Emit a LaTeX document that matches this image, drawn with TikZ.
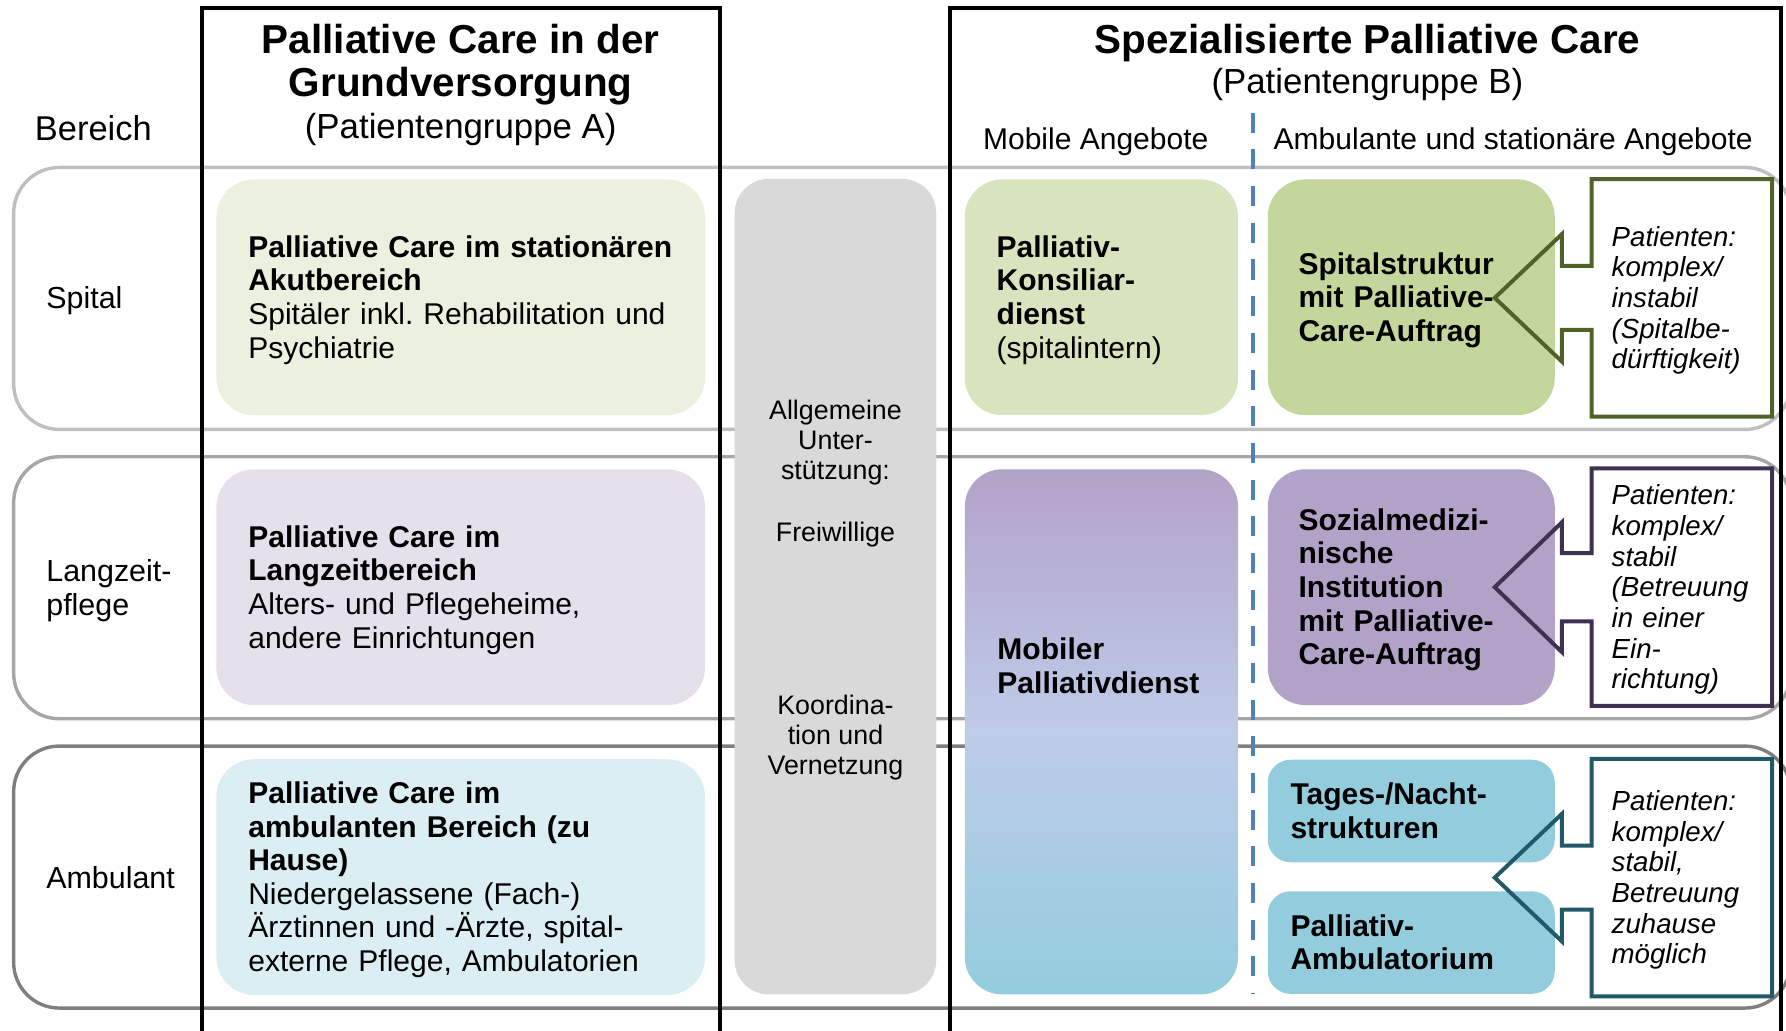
\documentclass[tikz,border=0pt]{standalone}
\usepackage{fontspec}
\setmainfont{Liberation Sans}
\frenchspacing

\definecolor{bandspital}{HTML}{BFBFBF}
\definecolor{bandlang}{HTML}{A6A6A6}
\definecolor{bandamb}{HTML}{7F7F7F}
\definecolor{greenpale}{HTML}{EBF1DE}
\definecolor{purplepale}{HTML}{E5E0EC}
\definecolor{aquapale}{HTML}{DBEEF4}
\definecolor{greenlight}{HTML}{D7E4BD}
\definecolor{greenmid}{HTML}{C3D69B}
\definecolor{purplemid}{HTML}{B3A2C7}
\definecolor{aquamid}{HTML}{93CDDD}
\definecolor{periwinkle}{HTML}{BECBE9}
\definecolor{greendark}{HTML}{4F6228}
\definecolor{purpledark}{HTML}{3F3151}
\definecolor{aquadark}{HTML}{215968}
\definecolor{supportgrey}{HTML}{D9D9D9}
\definecolor{dividerblue}{HTML}{4F81BD}

\tikzset{
  every node/.style={execute at begin node={\rule{0pt}{0.905em}},
    execute at end node={\rule[-0.212em]{0pt}{0pt}}},
  band/.style={line width=0.85pt, rounded corners=4mm},
  colframe/.style={line width=1pt, black},
  divider/.style={dividerblue, line width=1pt, dash pattern=on 1.76mm off 1.46mm},
  basebox/.style={rounded corners=3.3mm, inner sep=0pt, align=left,
    font=\fontsize{7.5}{8.4}\selectfont},
  gbox/.style={basebox, minimum width=42.9mm, minimum height=20.7mm, text width=37.3mm},
  mbox/.style={basebox, minimum width=24mm, text width=18.4mm},
  sbox/.style={basebox, minimum width=25.2mm, minimum height=20.7mm, text width=19.8mm,
    font=\fontsize{7.5}{8.4}\selectfont\bfseries},
  smallbox/.style={basebox, rounded corners=2mm, minimum width=25.2mm, minimum height=9mm,
    text width=21.2mm, font=\fontsize{7.5}{8.4}\selectfont\bfseries},
  patbox/.style={inner sep=0pt, minimum width=15.7mm, minimum height=20.7mm,
    text width=12.3mm, align=left, font=\fontsize{6.9}{7.65}\selectfont\itshape},
  calloutline/.style={line width=1pt, line join=miter},
  rowlabel/.style={anchor=west, inner sep=0pt, align=left, font=\fontsize{7.6}{8.5}\selectfont},
  colhead/.style={font=\fontsize{7.5}{9}\selectfont}
}

\begin{document}
\begin{tikzpicture}[x=0.1mm, y=-0.1mm]
  \useasboundingbox (0,0) rectangle (1568,905);

  % row bands
  \draw[band, bandspital] (12,147) rectangle (1572,377);
  \draw[band, bandlang] (12,401) rectangle (1572,631);
  \draw[band, bandamb] (12,655) rectangle (1572,885);

  % headings
  \node (bereich) at (30,113) [anchor=west, inner sep=0pt, font=\fontsize{8.6}{10}\selectfont] {Bereich};
  \node (headA) at (404.5,75) [align=center, font=\fontsize{10.1}{10.8}\selectfont\bfseries]
    {Palliative Care in der\\Grundversorgung\\[-0.15mm]{\mdseries\fontsize{8.7}{10.8}\selectfont (Patientengruppe A)}};
  \node (headB) at (1200.5,55.5) [align=center, font=\fontsize{10.1}{9.9}\selectfont\bfseries]
    {Spezialisierte Palliative Care\\{\mdseries\fontsize{8.7}{9.9}\selectfont (Patientengruppe B)}};
  \node (mobilehead) at (962,122) [colhead] {Mobile Angebote};
  \node (stationaryhead) at (1328.5,122) [colhead] {Ambulante und stationäre Angebote};

  % row labels
  \node (spital) at (40,262) [rowlabel] {Spital};
  \node (langzeit) at (40,519) [rowlabel] {Langzeit-\\pflege};
  \node (ambulant) at (40,771) [rowlabel] {Ambulant};

  % general support column
  \node (support) at (733.5,515) [fill=supportgrey, rounded corners=3mm, minimum width=17.7mm,
    minimum height=71.6mm] {};
  \node (supporttext) at (733.5,518) [align=center, font=\fontsize{6.7}{7.5}\selectfont]
    {Allgemeine\\Unter-\\stützung:\\[2.75mm]Freiwillige\\[12.55mm]Koordina-\\tion und\\Vernetzung};

  % basic care (group A)
  \node (acute) at (404.5,261) [gbox, fill=greenpale]
    {\textbf{Palliative Care im stationären}\\\textbf{Akutbereich}\\Spitäler inkl. Rehabilitation und\\Psychiatrie};
  \node (longterm) at (404.5,515.5) [gbox, fill=purplepale]
    {\textbf{Palliative Care im}\\\textbf{Langzeitbereich}\\Alters- und Pflegeheime,\\andere Einrichtungen};
  \node (homecare) at (404.5,770) [gbox, fill=aquapale]
    {\textbf{Palliative Care im}\\\textbf{ambulanten Bereich (zu}\\\textbf{Hause)}\\Niedergelassene (Fach-)\\Ärztinnen und -Ärzte, spital-\\externe Pflege, Ambulatorien};

  % specialised care (group B), mobile
  \node (consult) at (967,261) [mbox, minimum height=20.7mm, fill=greenlight]
    {\textbf{Palliativ-}\\\textbf{Konsiliar-}\\\textbf{dienst}\\(spitalintern)};
  \node (mobile) at (967,642.5) [mbox, minimum height=46.1mm,
    top color=purplemid, bottom color=aquamid, middle color=periwinkle] {};
  \node (mobiletext) at (875,587) [anchor=west, inner sep=0pt, align=left,
    font=\fontsize{7.5}{8.5}\selectfont\bfseries] {Mobiler\\Palliativdienst};

  % specialised care (group B), outpatient and inpatient
  \node (hospital) at (1239,261) [sbox, fill=greenmid]
    {Spitalstruktur\\mit Palliative-\\Care-Auftrag};
  \node (institution) at (1239,515.5) [sbox, fill=purplemid]
    {Sozialmedizi-\\nische\\Institution\\mit Palliative-\\Care-Auftrag};
  \node (daynight) at (1239,712) [smallbox, fill=aquamid] {Tages-/Nacht-\\strukturen};
  \node (outpatient) at (1239,827.5) [smallbox, fill=aquamid] {Palliativ-\\Ambulatorium};

  % patients
  \node (unstable) at (1476.5,261.5) [patbox]
    {Patienten:\\komplex/\\instabil\\(Spitalbe-\\dürftigkeit)};
  \node (stableinst) at (1476.5,515.5) [patbox]
    {Patienten:\\komplex/\\stabil\\(Betreuung\\in einer\\Ein-\\richtung)};
  \node (stablehome) at (1476.5,770.5) [patbox]
    {Patienten:\\komplex/\\stabil,\\Betreuung\\zuhause\\möglich};

  % column frames
  \draw[colframe] (177,915) -- (177,7) -- (632,7) -- (632,915);
  \draw[colframe] (834,915) -- (834,7) -- (1564,7) -- (1564,915);

  % mobile / stationary divider
  \coordinate (divtop) at (1100,99);
  \coordinate (divbot) at (1100,873);
  \draw[divider] (divtop) -- (divbot);

  % callout outlines
  \draw[calloutline, greendark] (unstable.north west) -- (unstable.north east) -- (unstable.south east)
    -- (unstable.south west) -- ([yshift=-2.8mm]unstable.west) -- ++(-2.6mm,0) -- ++(0,-2.8mm)
    -- ([xshift=-8.5mm]unstable.west) -- ([xshift=-2.6mm,yshift=5.6mm]unstable.west) -- ++(0,-2.8mm)
    -- ([yshift=2.8mm]unstable.west) -- cycle;
  \draw[calloutline, purpledark] (stableinst.north west) -- (stableinst.north east) -- (stableinst.south east)
    -- (stableinst.south west) -- ([yshift=-3mm]stableinst.west) -- ++(-2.6mm,0) -- ++(0,-2.7mm)
    -- ([xshift=-8.5mm]stableinst.west) -- ([xshift=-2.6mm,yshift=5.7mm]stableinst.west) -- ++(0,-2.7mm)
    -- ([yshift=3mm]stableinst.west) -- cycle;
  \draw[calloutline, aquadark] (stablehome.north west) -- (stablehome.north east) -- (stablehome.south east)
    -- (stablehome.south west) -- ([yshift=-2.8mm]stablehome.west) -- ++(-2.6mm,0) -- ++(0,-2.8mm)
    -- ([xshift=-8.5mm]stablehome.west) -- ([xshift=-2.6mm,yshift=5.6mm]stablehome.west) -- ++(0,-2.8mm)
    -- ([yshift=2.8mm]stablehome.west) -- cycle;

\end{tikzpicture}
\end{document}
